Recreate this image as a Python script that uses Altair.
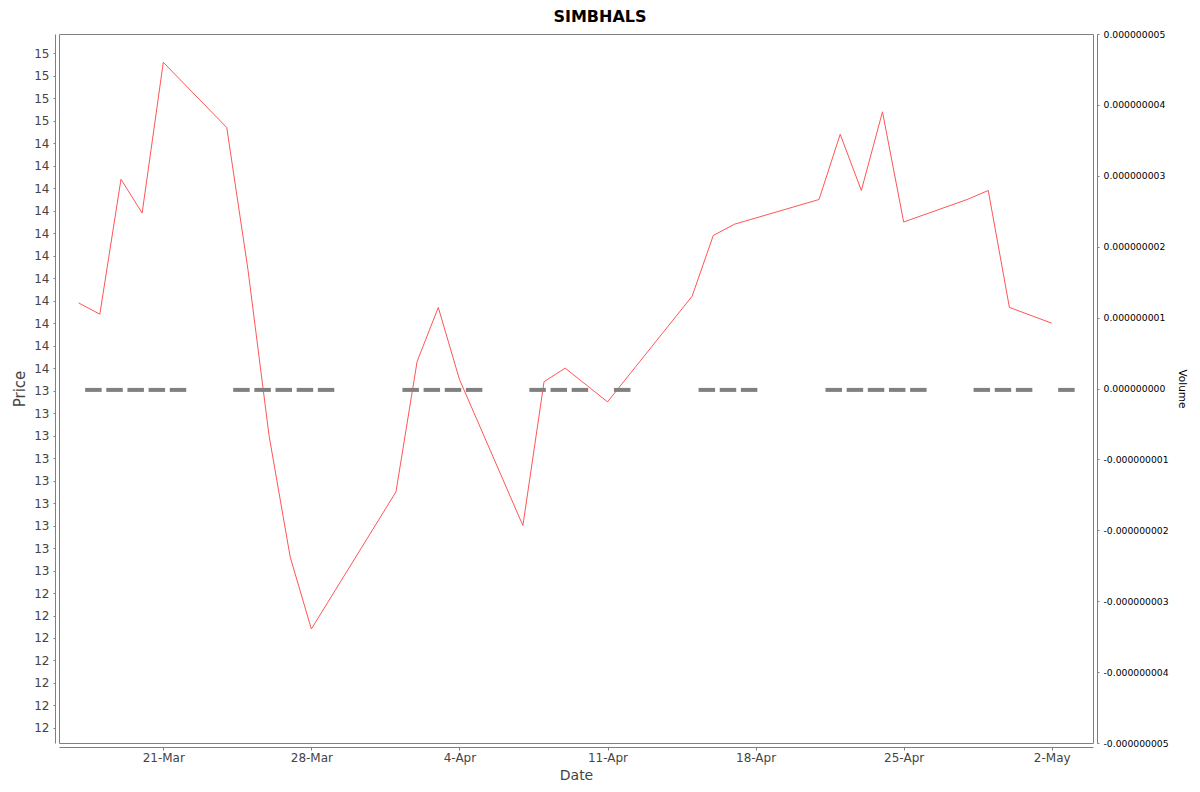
import altair as alt
import pandas as pd

# ---- data ----
dates = ["2025-03-17", "2025-03-18", "2025-03-19", "2025-03-20", "2025-03-21",
         "2025-03-24", "2025-03-25", "2025-03-26", "2025-03-27", "2025-03-28",
         "2025-04-01", "2025-04-02", "2025-04-03", "2025-04-04",
         "2025-04-07", "2025-04-08", "2025-04-09", "2025-04-11",
         "2025-04-15", "2025-04-16", "2025-04-17",
         "2025-04-21", "2025-04-22", "2025-04-23", "2025-04-24", "2025-04-25",
         "2025-04-28", "2025-04-29", "2025-04-30", "2025-05-02"]
price = [13.79, 13.74, 14.34, 14.19, 14.86,
         14.57, 13.94, 13.20, 12.66, 12.34,
         12.95, 13.53, 13.77, 13.45,
         12.80, 13.44, 13.50, 13.35,
         13.82, 14.09, 14.14,
         14.25, 14.54, 14.29, 14.64, 14.15,
         14.25, 14.29, 13.77, 13.70]
volume = [0] * len(dates)

x_tick_dates = ["2025-03-21", "2025-03-28", "2025-04-04", "2025-04-11",
                "2025-04-18", "2025-04-25", "2025-05-02"]
price_ticks = [11.9, 12.0, 12.1, 12.2, 12.3, 12.4, 12.5, 12.6, 12.7, 12.8,
               12.9, 13.0, 13.1, 13.2, 13.3, 13.4, 13.5, 13.6, 13.7, 13.8,
               13.9, 14.0, 14.1, 14.2, 14.3, 14.4, 14.5, 14.6, 14.7, 14.8, 14.9]
volume_ticks = [-5e-9, -4e-9, -3e-9, -2e-9, -1e-9, 0.0,
                1e-9, 2e-9, 3e-9, 4e-9, 5e-9]
price_domain = [11.833, 14.986]
volume_domain = [-5e-9, 5e-9]

df = pd.DataFrame({"Date": dates, "Price": price, "Volume": volume})


def dt(s, h=0, m=0):
    y, mo, d = (int(v) for v in s.split("-"))
    return alt.DateTime(year=y, month=mo, date=d, hours=h, minutes=m, utc=True)


x_scale = alt.Scale(type="utc", domain=[dt("2025-03-16", 1, 40), dt("2025-05-03", 22, 50)])
x_axis = alt.Axis(
    title="Date", values=[dt(s) for s in x_tick_dates], format="%-d-%b",
    offset=4, grid=False, domainColor="#808080", tickColor="#808080",
    tickSize=3, labelPadding=2, labelFontSize=12, labelColor="#444444",
    titleFontSize=14, titleColor="#444444", titleFontWeight="normal", titlePadding=5,
)

FONT = "DejaVu Sans"

base = alt.Chart(df)

price_line = base.mark_line(color="#ff5555", strokeWidth=1).encode(
    x=alt.X("Date:T", scale=x_scale, axis=x_axis),
    y=alt.Y("Price:Q", scale=alt.Scale(domain=price_domain, nice=False, zero=False),
            axis=alt.Axis(
                orient="left", title="Price", values=price_ticks,
                labelExpr="(datum.value % 1 == 0.5 && floor(datum.value) % 2 == 0) ? floor(datum.value) : round(datum.value)",
                offset=4, grid=False, domainColor="#808080", tickColor="#808080",
                tickSize=2, labelPadding=4, labelFontSize=12, labelColor="#444444",
                titleFontSize=15, titleColor="#444444", titleFontWeight="normal",
                titlePadding=6)),
)

vol_ticks = base.mark_tick(orient="horizontal", size=16.5, thickness=4,
                           xOffset=14.7, yOffset=1.4, color="#808080", opacity=1).encode(
    x=alt.X("Date:T", scale=x_scale, axis=x_axis),
    y=alt.Y("Volume:Q", scale=alt.Scale(domain=volume_domain, nice=False, zero=False),
            axis=alt.Axis(
                orient="right", title="Volume", values=volume_ticks,
                labelExpr="(datum.value < 0 ? '-' : '') + format(abs(datum.value), '.9f')",
                offset=4, grid=False, domainColor="#808080", tickColor="#808080",
                tickSize=2, labelPadding=4, labelFontSize=9.25, labelColor="#000000",
                titleFontSize=10.5, titleColor="#000000", titleFontWeight="normal",
                titleAngle=90, titlePadding=8)),
)

chart = alt.layer(price_line, vol_ticks).resolve_scale(y="independent").properties(
    width=1034, height=709,
    title=alt.TitleParams("SIMBHALS", fontSize=16, fontWeight="bold", color="#000000",
                          anchor="middle", dx=24, offset=5, font=FONT),
    autosize=alt.AutoSizeParams(type="none"),
    padding={"left": 51, "top": 26, "right": 99, "bottom": 40},
).configure(font=FONT).configure_view(stroke="#808080", strokeWidth=1)

chart.save("out.html", embed_options={"renderer": "svg", "actions": False})
